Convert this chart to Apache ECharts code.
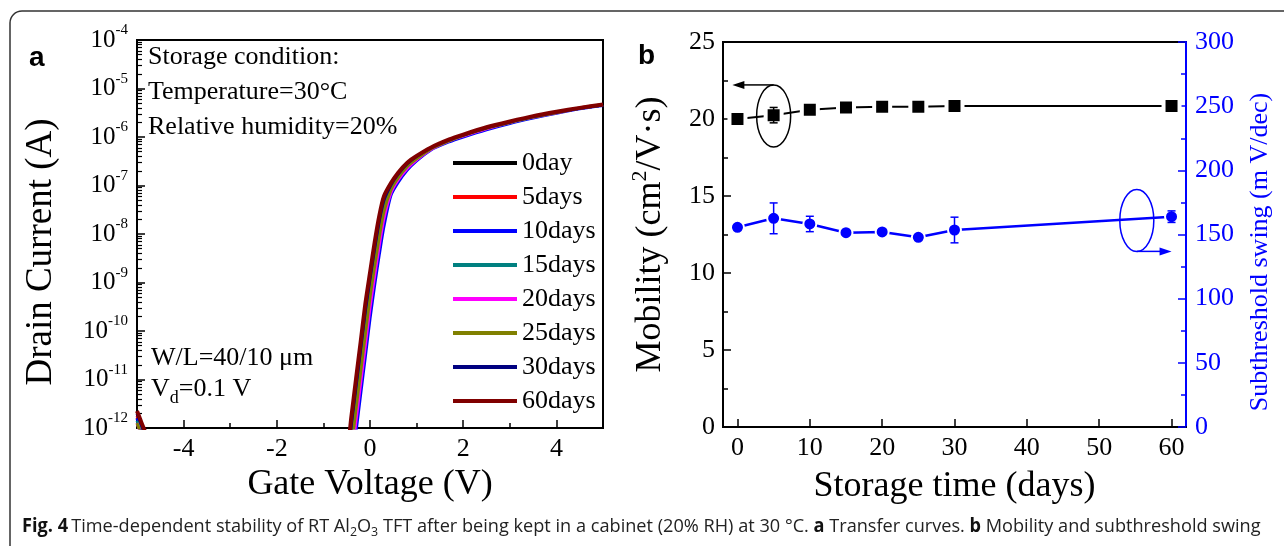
<!DOCTYPE html>
<html>
<head>
<meta charset="utf-8">
<script src="https://cdn.jsdelivr.net/npm/echarts@6/dist/echarts.min.js"></script>
<style>
  html, body { margin: 0; padding: 0; background: #fff; }
  #main { width: 1284px; height: 546px; }
</style>
</head>
<body>
<div id="main"></div>
<script>
// ---- panel a: transfer curves, values are log10 of drain current (A) ----
const gateVoltage = [-5.0, -4.9, -4.8, -4.7, -0.6, -0.5, -0.4, -0.3, -0.2, -0.1, 0.0, 0.1, 0.2, 0.3, 0.45, 0.6, 0.8, 1.0, 1.3, 1.7, 2.0, 2.5, 3.0, 3.5, 4.0, 4.5, 5.0];
const curveNames = ["0day", "5days", "10days", "15days", "20days", "25days", "30days", "60days"];
const curveColors = ["#000000", "#ff0000", "#0000ff", "#008080", "#ff00ff", "#808000", "#000080", "#800000"];
const logId0 = [-11.8, -12.05, -12.3, -12.6, -12.7, -12.7, -12.0, -11.22, -10.45, -9.67, -8.99, -8.36, -7.79, -7.34, -7.0, -6.78, -6.56, -6.41, -6.23, -6.06, -5.96, -5.81, -5.69, -5.58, -5.49, -5.41, -5.34];
const logId5 = [-11.75, -12.0, -12.25, -12.55, -12.8, -12.8, -12.08, -11.3, -10.53, -9.75, -9.06, -8.42, -7.84, -7.38, -7.02, -6.8, -6.57, -6.41, -6.23, -6.06, -5.96, -5.81, -5.69, -5.58, -5.49, -5.4, -5.33];
const logId10 = [-11.8, -12.05, -12.3, -12.6, -13.0, -13.0, -12.86, -12.08, -11.3, -10.53, -9.75, -9.06, -8.42, -7.84, -7.2, -6.94, -6.68, -6.49, -6.27, -6.1, -6.0, -5.85, -5.72, -5.61, -5.51, -5.42, -5.35];
const logId15 = [-11.85, -12.1, -12.35, -12.6, -12.8, -12.8, -12.16, -11.38, -10.61, -9.83, -9.12, -8.49, -7.9, -7.42, -7.04, -6.81, -6.58, -6.42, -6.24, -6.07, -5.97, -5.82, -5.7, -5.59, -5.49, -5.41, -5.34];
const logId20 = [-11.9, -12.15, -12.4, -12.7, -12.9, -12.9, -12.63, -11.85, -11.07, -10.3, -9.52, -8.86, -8.23, -7.68, -7.15, -6.89, -6.65, -6.47, -6.26, -6.08, -5.98, -5.83, -5.7, -5.59, -5.5, -5.41, -5.34];
const logId25 = [-11.9, -12.15, -12.4, -12.7, -12.9, -12.9, -12.39, -11.61, -10.84, -10.07, -9.31, -8.67, -8.06, -7.54, -7.09, -6.85, -6.61, -6.45, -6.25, -6.08, -5.97, -5.82, -5.7, -5.59, -5.5, -5.41, -5.34];
const logId30 = [-11.7, -11.95, -12.2, -12.5, -12.7, -12.7, -11.93, -11.15, -10.37, -9.59, -8.93, -8.3, -7.73, -7.3, -6.99, -6.77, -6.55, -6.4, -6.23, -6.06, -5.96, -5.81, -5.69, -5.58, -5.49, -5.41, -5.34];
const logId60 = [-11.65, -11.9, -12.15, -12.5, -12.6, -12.55, -11.77, -10.99, -10.22, -9.44, -8.8, -8.17, -7.62, -7.22, -6.95, -6.74, -6.53, -6.39, -6.22, -6.05, -5.95, -5.8, -5.68, -5.57, -5.48, -5.4, -5.33];
const curveLogs = [logId0, logId5, logId10, logId15, logId20, logId25, logId30, logId60];
const currentTicks = [1e-12, 1e-11, 1e-10, 1e-9, 1e-8, 1e-7, 1e-6, 1e-5, 1e-4];
const voltageTicks = [-4, -2, 0, 2, 4];
const voltageMinorTicks = [-3, -1, 1, 3];

// ---- panel b: mobility and subthreshold swing vs storage time ----
const days = [0, 5, 10, 15, 20, 25, 30, 60];
const mobility = [20.0, 20.25, 20.6, 20.75, 20.8, 20.8, 20.85, 20.85];
const mobilityErr = [0.1, 0.5, 0.1, 0.1, 0.1, 0.1, 0.1, 0.1];
const swing = [155.6, 162.6, 158.2, 151.4, 152.0, 147.8, 153.5, 163.9];
const swingErr = [2, 12, 6, 2, 2, 2, 10, 4.5];
const dayTicks = [0, 10, 20, 30, 40, 50, 60];
const mobilityNote = [5, 20.2];   // ellipse centre (day, mobility)
const swingNote = [55.2, 161];    // ellipse centre (day, swing)

const serif = "Liberation Serif";
const blue = "#0000ff";

// log minor tick positions (log10 of 2..9 x 10^n) for an overlay axis in decade units
const currentMinorTicks = [];
for (let n = -12; n < -4; n++) {
  for (let k = 2; k <= 9; k++) currentMinorTicks.push(n + Math.log10(k));
}

const chart = echarts.init(document.querySelector("#main"));

function errorBars(color) {
  return function (params, api) {
    const x = api.value(0);
    const y = api.value(1);
    const e = api.value(2);
    const top = api.coord([x, y + e]);
    const bot = api.coord([x, y - e]);
    const style = { stroke: color, lineWidth: 1.5 };
    return {
      type: "group",
      children: [
        { type: "line", shape: { x1: top[0], y1: top[1], x2: bot[0], y2: bot[1] }, style },
        { type: "line", shape: { x1: top[0] - 4, y1: top[1], x2: top[0] + 4, y2: top[1] }, style },
        { type: "line", shape: { x1: bot[0] - 4, y1: bot[1], x2: bot[0] + 4, y2: bot[1] }, style },
      ],
    };
  };
}

const curveSeries = curveNames.map((name, i) => ({
  name: name,
  type: "line",
  xAxisIndex: 0,
  yAxisIndex: 0,
  data: gateVoltage.map((v, j) => [v, Math.pow(10, curveLogs[i][j])]),
  showSymbol: false,
  symbol: "none",
  smooth: 0.25,
  clip: true,
  itemStyle: { color: curveColors[i] },
  lineStyle: { color: curveColors[i], width: i === 7 ? 4 : 3, join: "round" },
  z: 3 + i,
}));

const blackAxis = { show: true, onZero: false, lineStyle: { color: "#000", width: 2 } };
const tickStyle = { color: "#000", width: 1.5 };

const option = {
  animation: false,
  backgroundColor: "#fff",
  textStyle: { fontFamily: serif },
  legend: {
    data: curveNames,
    orient: "vertical",
    left: 448,
    top: 145,
    icon: "rect",
    itemWidth: 64,
    itemHeight: 4,
    itemGap: 8,
    textStyle: { fontFamily: serif, fontSize: 26, lineHeight: 26, color: "#000" },
  },
  grid: [
    { left: 137, top: 40, width: 466, height: 388, show: true, borderColor: "#000", borderWidth: 2 },
    { left: 723, top: 42, width: 463, height: 385, show: true, borderColor: "#000", borderWidth: 2 },
  ],
  xAxis: [
    {
      type: "value", gridIndex: 0, position: "bottom", min: -5, max: 5,
      axisLine: blackAxis,
      axisTick: { inside: true, length: 8, customValues: voltageTicks, lineStyle: tickStyle },
      axisLabel: { customValues: voltageTicks, fontSize: 26, margin: 8, color: "#000", fontFamily: serif },
      splitLine: { show: false },
      name: "Gate Voltage (V)", nameLocation: "middle", nameGap: 38,
      nameTextStyle: { fontSize: 36, color: "#000", fontFamily: serif },
    },
    {
      type: "value", gridIndex: 0, position: "bottom", min: -5, max: 5,
      axisLine: { show: false, onZero: false },
      axisTick: { inside: true, length: 5, customValues: voltageMinorTicks, lineStyle: tickStyle },
      axisLabel: { show: false },
      splitLine: { show: false },
    },
    {
      type: "value", gridIndex: 1, position: "bottom", min: -2, max: 62,
      axisLine: blackAxis,
      axisTick: { inside: true, length: 8, customValues: dayTicks, lineStyle: tickStyle },
      axisLabel: { customValues: dayTicks, fontSize: 26, margin: 8, color: "#000", fontFamily: serif },
      splitLine: { show: false },
      name: "Storage time (days)", nameLocation: "middle", nameGap: 42,
      nameTextStyle: { fontSize: 36, color: "#000", fontFamily: serif },
    },
  ],
  yAxis: [
    {
      type: "log", logBase: 10, gridIndex: 0, position: "left", min: 1e-12, max: 1e-4,
      axisLine: blackAxis,
      axisTick: { inside: true, length: 8, customValues: currentTicks, lineStyle: tickStyle },
      axisLabel: {
        customValues: currentTicks, margin: 9, color: "#000",
        formatter: (v) => "{b|10}{s|" + Math.round(Math.log10(v)) + "}",
        rich: {
          b: { fontSize: 25, lineHeight: 34, fontFamily: serif, color: "#000" },
          s: { fontSize: 15, lineHeight: 15, verticalAlign: "top", fontFamily: serif, color: "#000" },
        },
      },
      splitLine: { show: false },
    },
    {
      // overlay in decade units, only for the minor ticks of the log axis
      type: "value", gridIndex: 0, position: "left", min: -12, max: -4,
      axisLine: { show: false, onZero: false },
      axisTick: { inside: true, length: 5, customValues: currentMinorTicks, lineStyle: { color: "#000", width: 1.2 } },
      axisLabel: { show: false },
      splitLine: { show: false },
    },
    {
      type: "value", gridIndex: 1, position: "left", min: 0, max: 25, interval: 5,
      axisLine: blackAxis,
      axisTick: { inside: true, length: 8, lineStyle: tickStyle },
      minorTick: { show: true, splitNumber: 2, length: 5, lineStyle: tickStyle },
      axisLabel: { fontSize: 26, margin: 8, color: "#000", fontFamily: serif },
      splitLine: { show: false },
      name: "{n|Mobility (cm}{s|2}{n|/V·s)}", nameLocation: "middle", nameGap: 50,
      nameTextStyle: {
        color: "#000",
        rich: {
          n: { fontSize: 36, lineHeight: 44, fontFamily: serif, color: "#000" },
          s: { fontSize: 22, lineHeight: 22, verticalAlign: "top", fontFamily: serif, color: "#000" },
        },
      },
    },
    {
      type: "value", gridIndex: 1, position: "right", min: 0, max: 300, interval: 50,
      axisLine: { show: true, onZero: false, lineStyle: { color: blue, width: 2 } },
      axisTick: { inside: true, length: 8, lineStyle: { color: blue, width: 1.5 } },
      minorTick: { show: true, splitNumber: 2, length: 5, lineStyle: { color: blue, width: 1.5 } },
      axisLabel: { fontSize: 26, margin: 9, color: blue, fontFamily: serif },
      splitLine: { show: false },
    },
  ],
  series: curveSeries.concat([
    {
      // white symbol border gives the small gap between line and marker
      name: "Mobility", type: "line", xAxisIndex: 2, yAxisIndex: 2,
      data: days.map((d, i) => [d, mobility[i]]),
      symbol: "rect", symbolSize: 16,
      itemStyle: { color: "#000", borderColor: "#fff", borderWidth: 4 },
      lineStyle: { color: "#000", width: 2 }, z: 4,
    },
    {
      name: "SS", type: "line", xAxisIndex: 2, yAxisIndex: 3,
      data: days.map((d, i) => [d, swing[i]]),
      symbol: "circle", symbolSize: 13,
      itemStyle: { color: blue, borderColor: "#fff", borderWidth: 2 },
      lineStyle: { color: blue, width: 2.5 }, z: 4,
    },
    {
      type: "custom", xAxisIndex: 2, yAxisIndex: 2,
      data: days.map((d, i) => [d, mobility[i], mobilityErr[i]]),
      renderItem: errorBars("#000"), encode: { x: 0, y: 1 }, z: 6,
    },
    {
      type: "custom", xAxisIndex: 2, yAxisIndex: 3,
      data: days.map((d, i) => [d, swing[i], swingErr[i]]),
      renderItem: errorBars(blue), encode: { x: 0, y: 1 }, z: 6,
    },
  ]),
};

chart.setOption(option);

// annotations positioned from data coordinates
const mc = chart.convertToPixel({ xAxisIndex: 2, yAxisIndex: 2 }, mobilityNote);
const mTip = chart.convertToPixel({ xAxisIndex: 2, yAxisIndex: 2 }, [-0.7, mobilityNote[1]]);
const sc = chart.convertToPixel({ xAxisIndex: 2, yAxisIndex: 3 }, swingNote);
const sTip = chart.convertToPixel({ xAxisIndex: 2, yAxisIndex: 3 }, [60, swingNote[1]]);
const rx = 17, ry = 31;
const capFont = "Open Sans";

chart.setOption({
  graphic: [
    { type: "rect", shape: { x: 10, y: 11, width: 1330, height: 620, r: 12 }, style: { fill: "none", stroke: "#333", lineWidth: 1.5 }, silent: true },
    { type: "text", left: 29, top: 44, style: { text: "a", font: "bold 28px 'Liberation Sans'", fill: "#000" } },
    { type: "text", left: 638, top: 42, style: { text: "b", font: "bold 28px 'Liberation Sans'", fill: "#000" } },
    // rotated axis titles
    { type: "text", x: 41, y: 252, rotation: Math.PI / 2, style: { text: "Drain Current (A)", font: "37px 'Liberation Serif'", fill: "#000", align: "center", verticalAlign: "middle" } },
    { type: "text", x: 1260, y: 252, rotation: Math.PI / 2, style: { text: "Subthreshold swing (m V/dec)", font: "26px 'Liberation Serif'", fill: blue, align: "center", verticalAlign: "middle" } },
    { type: "text", x: 148, y: 57, style: { text: "Storage condition:", font: "26px 'Liberation Serif'", fill: "#000", verticalAlign: "middle" } },
    { type: "text", x: 148, y: 92, style: { text: "Temperature=30°C", font: "26px 'Liberation Serif'", fill: "#000", verticalAlign: "middle" } },
    { type: "text", x: 148, y: 127, style: { text: "Relative humidity=20%", font: "26px 'Liberation Serif'", fill: "#000", verticalAlign: "middle" } },
    { type: "text", x: 151, y: 358, style: { text: "W/L=40/10 μm", font: "26px 'Liberation Serif'", fill: "#000", verticalAlign: "middle" } },
    {
      type: "text", x: 151, y: 389,
      style: {
        text: "{n|V}{d|d}{n|=0.1 V}", verticalAlign: "middle", fill: "#000",
        rich: {
          n: { fontSize: 26, lineHeight: 36, fontFamily: serif, fill: "#000" },
          d: { fontSize: 18, lineHeight: 18, verticalAlign: "bottom", fontFamily: serif, fill: "#000" },
        },
      },
    },
    // ellipse + arrow pointing to the left axis
    { type: "ellipse", shape: { cx: mc[0], cy: mc[1], rx: rx, ry: ry }, style: { fill: "none", stroke: "#000", lineWidth: 1.5 }, z: 10 },
    { type: "line", shape: { x1: mc[0], y1: mc[1] - ry, x2: mTip[0] + 10, y2: mc[1] - ry }, style: { stroke: "#000", lineWidth: 1.5 }, z: 10 },
    { type: "polygon", shape: { points: [[mTip[0], mc[1] - ry], [mTip[0] + 12, mc[1] - ry - 4], [mTip[0] + 12, mc[1] - ry + 4]] }, style: { fill: "#000" }, z: 10 },
    // ellipse + arrow pointing to the right axis
    { type: "ellipse", shape: { cx: sc[0], cy: sc[1], rx: rx, ry: ry }, style: { fill: "none", stroke: blue, lineWidth: 1.5 }, z: 10 },
    { type: "line", shape: { x1: sc[0], y1: sc[1] + ry, x2: sTip[0] - 10, y2: sc[1] + ry }, style: { stroke: blue, lineWidth: 1.5 }, z: 10 },
    { type: "polygon", shape: { points: [[sTip[0], sc[1] + ry], [sTip[0] - 12, sc[1] + ry - 4], [sTip[0] - 12, sc[1] + ry + 4]] }, style: { fill: blue }, z: 10 },
    // caption
    {
      type: "text", x: 22, y: 527, scaleX: 0.955,
      style: {
        text: "{b|Fig. 4} {n|Time-dependent stability of RT Al}{s|2}{n|O}{s|3}{n| TFT after being kept in a cabinet (20% RH) at 30 °C. }{b|a}{n| Transfer curves. }{b|b}{n| Mobility and subthreshold swing}",
        verticalAlign: "middle",
        rich: {
          b: { fontSize: 19, lineHeight: 24, fontWeight: "bold", fontFamily: capFont, fill: "#111" },
          n: { fontSize: 19, lineHeight: 24, fontFamily: capFont, fill: "#222" },
          s: { fontSize: 13, lineHeight: 13, verticalAlign: "bottom", fontFamily: capFont, fill: "#222" },
        },
      },
    },
  ],
});
</script>
</body>
</html>
